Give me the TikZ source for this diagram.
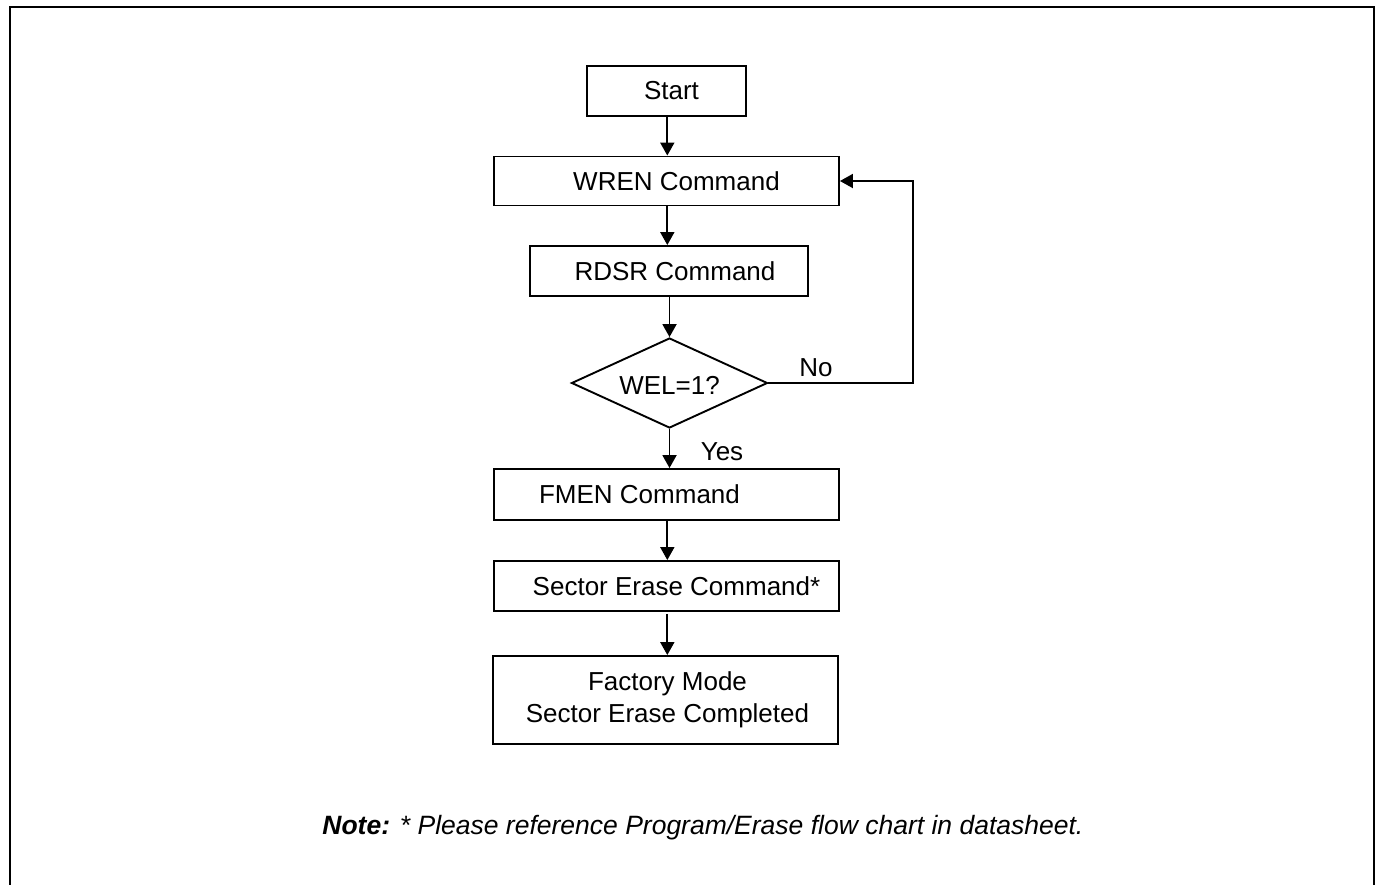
\documentclass[tikz,border=0pt]{standalone}
\usepackage{fontspec}
\setmainfont{Liberation Sans}
\usetikzlibrary{arrows.meta,shapes.geometric}
\begin{document}
\begin{tikzpicture}[x=0.5pt,y=-0.5pt,
  every node/.style={font=\fontsize{13}{16}\selectfont},
  box/.style={draw,line width=0.95pt,rectangle,inner sep=0pt},
  dec/.style={draw,line width=0.95pt,diamond,inner sep=0pt,minimum width=98pt,minimum height=45pt},
  arr/.style={line width=0.95pt,-{Triangle[width=7pt,length=6.5pt]}},
  lbl/.style={inner sep=0pt,anchor=center}]
\useasboundingbox (0,0) rectangle (1379,884);
% outer frame
\draw[line width=1pt] (10,890) -- (10,7) -- (1374,7) -- (1374,890);
% nodes
\node[box,minimum width=79.5pt,minimum height=25pt,label={[xshift=2.5pt]center:Start}] (start) at (666.5,91) {};
\node[box,minimum width=172.5pt,minimum height=24.5pt,label={[xshift=5pt]center:WREN Command}] (wren) at (666.5,181) {};
\node[box,minimum width=139pt,minimum height=25pt,label={[xshift=3pt]center:RDSR Command}] (rdsr) at (669,271) {};
\node[dec] (dia) at (669.5,383) {};
\node[lbl] (diat) at (669.5,385) {WEL=1?};
\node[box,minimum width=172.5pt,minimum height=25.5pt,label={[xshift=-13.5pt]center:FMEN Command}] (fmen) at (666.5,494.5) {};
\node[box,minimum width=172.5pt,minimum height=25pt,label={[xshift=5pt]center:Sector Erase Command*}] (sect) at (666.5,586) {};
\node[box,minimum width=172.5pt,minimum height=44pt,label={[align=center,xshift=1pt]center:Factory Mode\\Sector Erase Completed}] (fact) at (665.5,700) {};
\node[lbl] (no) at (816,368) {No};
\node[lbl] (yes) at (722,452) {Yes};
\coordinate (loopx) at (913,0);
\node[lbl,anchor=base west,font=\fontsize{13.25}{16}\selectfont] (note) at (322,834) {\textbf{\textit{Note:}} \textit{* Please reference Program/Erase flow chart in datasheet.}};
% connectors
\draw[arr] (start.south -| 667.3,0) -- (wren.north -| 667.3,0);
\draw[arr] (wren.south -| 667.3,0) -- (rdsr.north -| 667.3,0);
\draw[arr] (rdsr.south -| dia.north) -- (dia.north);
\draw[arr] (dia.south) -- (dia.south |- fmen.north);
\draw[arr] (fmen.south -| 667.3,0) -- (sect.north -| 667.3,0);
\draw[arr,shorten <=1pt] (sect.south -| 667.3,0) -- (fact.north -| 667.3,0);
\draw[arr] (dia.east) -- (dia.east -| loopx) -- (loopx |- wren.east) -- (wren.east);
\end{tikzpicture}
\end{document}
